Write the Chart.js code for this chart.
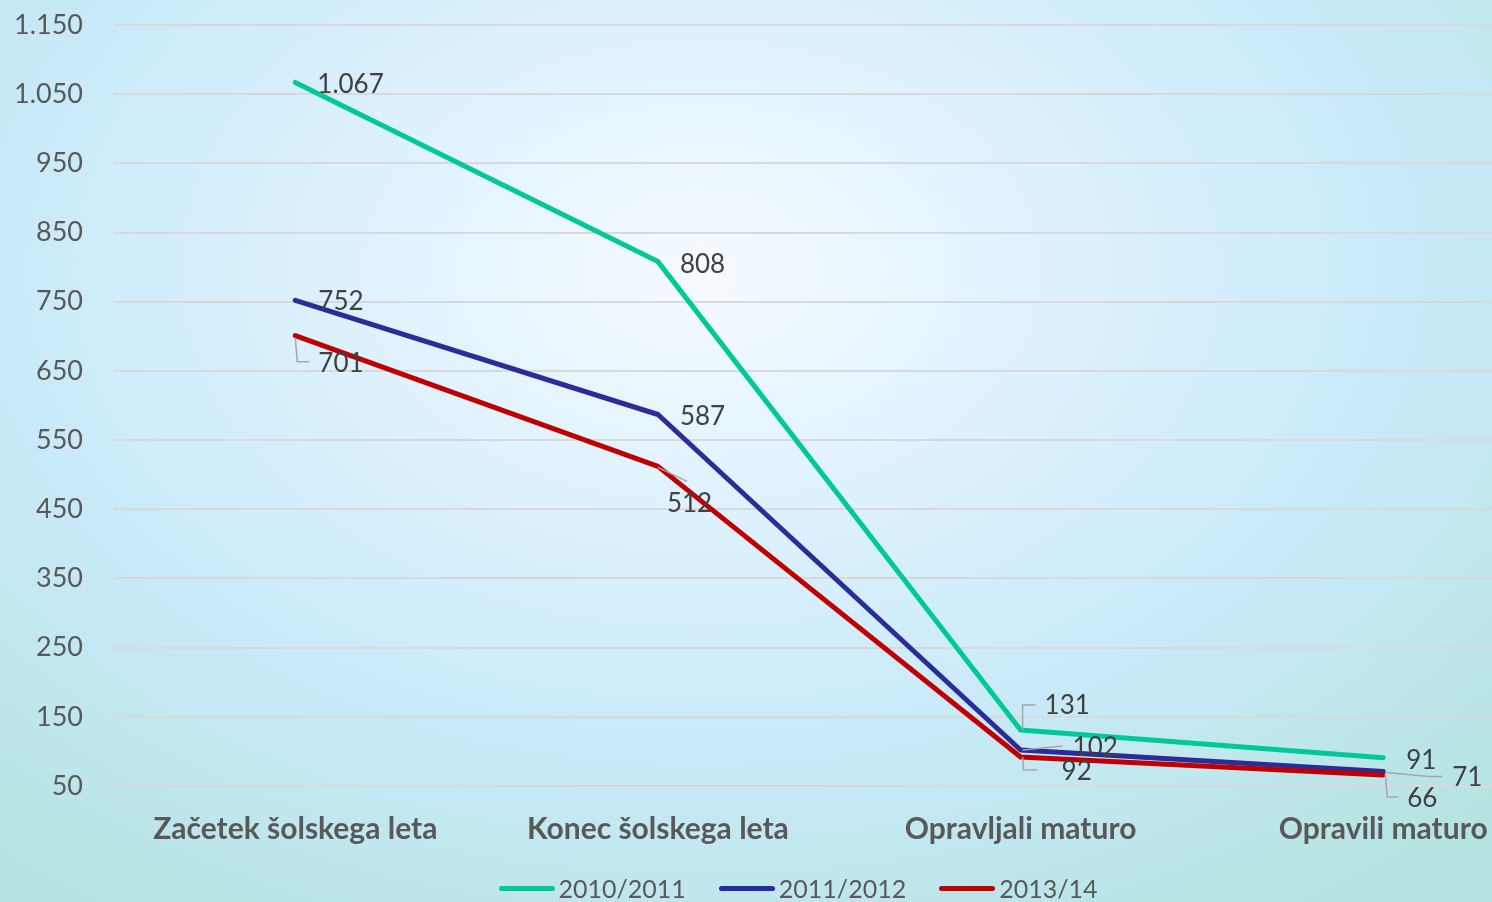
<!DOCTYPE html>
<html>
<head>
<meta charset="utf-8">
<script src="https://cdn.jsdelivr.net/npm/chart.js@4.4.1/dist/chart.umd.min.js"></script>
<style>
    html, body { margin: 0; padding: 0; }
    #wrap {
        position: relative;
        width: 1492px;
        height: 902px;
        overflow: hidden;
        background: radial-gradient(ellipse 75% 85% at 47% 30%, #f6fbff 0%, #dff2fd 30%, #c9eaf9 62%, #b5e4e0 100%);
        font-family: Lato, "Open Sans", sans-serif;
    }
    #legend {
        position: absolute;
        left: 0;
        width: 1596px;
        top: 873px;
        display: flex;
        justify-content: center;
        gap: 33px;
        font-size: 25px;
        color: #595959;
    }
    #legend span { display: flex; align-items: center; }
    #legend i { display: inline-block; width: 56px; height: 5px; border-radius: 3px; margin-right: 4px; }
</style>
</head>
<body>
<div id="wrap">
    <canvas id="chart" width="1492" height="902"></canvas>
    <div id="legend"></div>
</div>
<script>
// Kategorije in vrednosti, odčitane s slike
const categories = ['Začetek šolskega leta', 'Konec šolskega leta', 'Opravljali maturo', 'Opravili maturo'];
const seriesNames = ['2010/2011', '2011/2012', '2013/14'];
const values2010 = [1067, 808, 131, 91];
const values2011 = [752, 587, 102, 71];
const values2013 = [701, 512, 92, 66];
const yTicks = [50, 150, 250, 350, 450, 550, 650, 750, 850, 950, 1050, 1150];

const COLORS = ['#00c997', '#2b2b99', '#c00000'];
const INK = '#595959';
const LABEL_INK = '#404040';

// položaj oznak glede na točko (levi rob besedila, sredina) in vodilne črte
const LABEL_POS = [
    [{ dx: 22, dy: 2 }, { dx: 22, dy: 3 }, { dx: 24, dy: -24, lead: [[2, 0], [2, -25], [15, -25]] }, { dx: 23, dy: 3 }],
    [{ dx: 23, dy: 1 }, { dx: 22, dy: 2 }, { dx: 52, dy: -2, lead: [[2, 0], [42, -4]] }, { dx: 69, dy: 6, lead: [[3, 1], [46, 5], [59, 5]] }],
    [{ dx: 23, dy: 28, lead: [[0, 2], [2, 26], [14, 26]] }, { dx: 9, dy: 37, lead: [[0, 1], [29, 15]] }, { dx: 41, dy: 15, lead: [[2, 0], [3, 13], [17, 13]] }, { dx: 24, dy: 24, lead: [[2, -1], [4, 22], [15, 22]] }],
];

const fmt = (v) => String(v).replace(/\B(?=(\d{3})+(?!\d))/g, '.');

const dataLabels = {
    id: 'dataLabels',
    afterDatasetsDraw(chart) {
        const { ctx } = chart;
        ctx.save();
        chart.data.datasets.forEach((ds, i) => {
            chart.getDatasetMeta(i).data.forEach((pt, j) => {
                const p = LABEL_POS[i][j];
                if (p.lead) {
                    ctx.strokeStyle = '#a6a6a6';
                    ctx.lineWidth = 1.5;
                    ctx.beginPath();
                    p.lead.forEach(([lx, ly], k) => {
                        if (k === 0) ctx.moveTo(pt.x + lx, pt.y + ly);
                        else ctx.lineTo(pt.x + lx, pt.y + ly);
                    });
                    ctx.stroke();
                }
                ctx.fillStyle = LABEL_INK;
                ctx.font = '26px Lato, "Open Sans", sans-serif';
                ctx.textAlign = 'left';
                ctx.textBaseline = 'middle';
                ctx.fillText(fmt(ds.data[j].y), pt.x + p.dx, pt.y + p.dy);
            });
        });
        ctx.restore();
    },
};

const allSeries = [values2010, values2011, values2013];

new Chart(document.getElementById('chart'), {
    type: 'line',
    data: {
        datasets: allSeries.map((vals, i) => ({
            label: seriesNames[i],
            data: vals.map((v, j) => ({ x: j, y: v })),
            borderColor: COLORS[i],
            backgroundColor: COLORS[i],
            borderWidth: 5,
            borderJoinStyle: 'round',
            borderCapStyle: 'round',
            pointRadius: 0,
            tension: 0,
            order: allSeries.length - i,
        })),
    },
    options: {
        responsive: false,
        animation: false,
        layout: { padding: { top: 25, right: 0, bottom: 0, left: 0 } },
        plugins: { legend: { display: false }, tooltip: { enabled: false } },
        scales: {
            x: {
                type: 'linear',
                min: -0.5,
                max: 3.3,
                afterBuildTicks: (s) => { s.ticks = categories.map((_, i) => ({ value: i })); },
                afterFit: (s) => { s.height = 116; },
                grid: { display: false, drawTicks: true, tickLength: 25 },
                border: { display: false },
                ticks: {
                    autoSkip: false,
                    maxRotation: 0,
                    padding: 0,
                    color: INK,
                    font: { family: 'Lato, "Open Sans", sans-serif', size: 30, weight: 'bold' },
                    callback: (v) => categories[v],
                },
            },
            y: {
                min: 50,
                max: 1150,
                afterBuildTicks: (s) => { s.ticks = yTicks.map((v) => ({ value: v })); },
                afterFit: (s) => { s.width = 114; },
                grid: { color: '#d9d9d9', lineWidth: 2, drawTicks: true, tickLength: 25, tickColor: 'rgba(0,0,0,0)' },
                border: { display: false },
                ticks: {
                    padding: 6,
                    color: INK,
                    font: { family: 'Lato, "Open Sans", sans-serif', size: 27 },
                    callback: (v) => fmt(v),
                },
            },
        },
    },
    plugins: [dataLabels],
});

document.getElementById('legend').innerHTML = seriesNames.map((n, i) =>
    `<span><i style="background:${COLORS[i]}"></i>${n}</span>`).join('');
</script>
</body>
</html>
